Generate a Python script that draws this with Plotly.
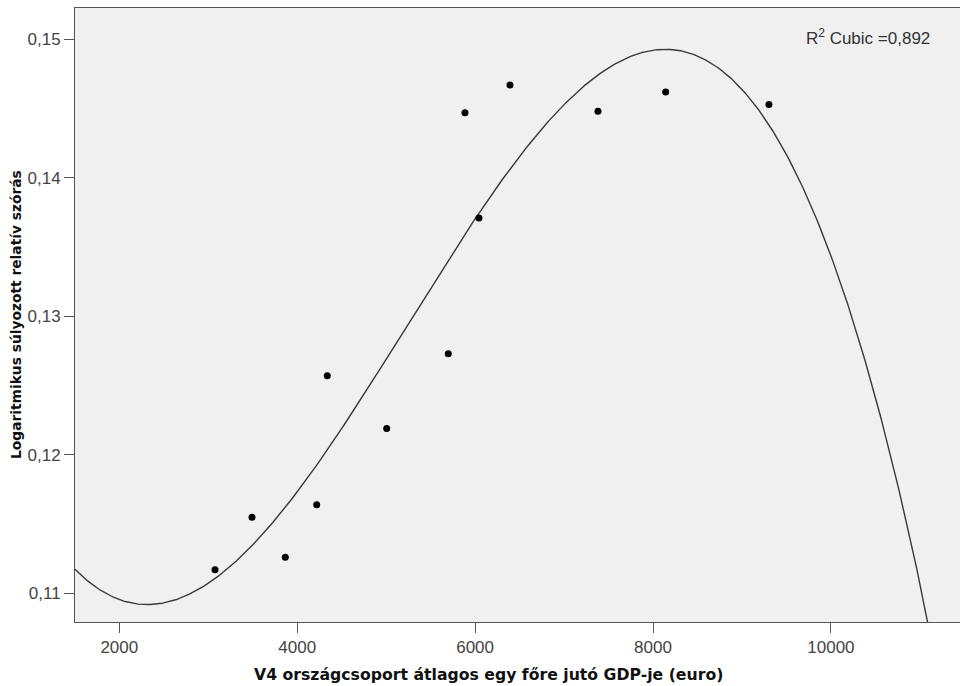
import numpy as np
import plotly.graph_objects as go

# Average GDP per capita of the V4 country group (euro)
gdp = [3076, 3492, 3866, 4219, 4338, 5006, 5698, 5886, 6043, 6392, 7381, 8142, 9303]
# Log-weighted relative standard deviation
log_sd = [0.1117, 0.1155, 0.1126, 0.1164, 0.1257, 0.1219, 0.1273, 0.1447, 0.1371,
          0.1467, 0.1448, 0.1462, 0.1453]

x_ticks = [2000, 4000, 6000, 8000, 10000]
y_ticks = [0.11, 0.12, 0.13, 0.14, 0.15]
y_tick_text = ["0,11", "0,12", "0,13", "0,14", "0,15"]

x_range = [1502, 11451]
y_range = [0.10793, 0.15226]

# Cubic least-squares fit
coef = np.polyfit(gdp, log_sd, 3)
xs = np.linspace(x_range[0], x_range[1], 600)
ys = np.polyval(coef, xs)

FONT = "Liberation Sans, Arial, sans-serif"
TITLE_FONT = "DejaVu Sans, sans-serif"

fig = go.Figure()
fig.add_trace(go.Scatter(
    x=xs, y=ys, mode="lines",
    line=dict(color="#3a3a3a", width=1.4),
    hoverinfo="skip", showlegend=False,
))
fig.add_trace(go.Scatter(
    x=gdp, y=log_sd, mode="markers",
    marker=dict(color="#000000", size=7),
    showlegend=False,
))

fig.update_layout(
    width=960, height=686,
    margin=dict(l=75, r=0, t=8, b=64),
    paper_bgcolor="#ffffff",
    plot_bgcolor="#f0f0f0",
    font=dict(family=FONT, color="#444444", size=17),
    xaxis=dict(
        range=x_range, tickvals=x_ticks, ticktext=[str(v) for v in x_ticks],
        showgrid=False, zeroline=False,
        showline=True, linecolor="#555555", linewidth=1, mirror=True,
        ticks="outside", ticklen=10, tickcolor="#555555", tickwidth=1,
        tickfont=dict(family=FONT, size=17, color="#444444"),
    ),
    yaxis=dict(
        range=y_range, tickvals=y_ticks, ticktext=y_tick_text,
        showgrid=False, zeroline=False,
        showline=True, linecolor="#555555", linewidth=1,
        ticks="outside", ticklen=10, tickcolor="#555555", tickwidth=1,
        tickfont=dict(family=FONT, size=17, color="#444444"),
    ),
    annotations=[
        dict(text="V4 országcsoport átlagos egy főre jutó GDP-je (euro)",
             xref="paper", yref="paper", x=(488 - 75) / 885, y=-52 / 614,
             xanchor="center", yanchor="middle", showarrow=False,
             font=dict(family=TITLE_FONT, size=15.7, color="#111111", weight="bold")),
        dict(text="Logaritmikus súlyozott relatív szórás",
             xref="paper", yref="paper", x=-59 / 885, y=(622 - 315) / 614,
             xanchor="center", yanchor="middle", showarrow=False, textangle=-90,
             font=dict(family=TITLE_FONT, size=13.8, color="#111111", weight="bold")),
        dict(text="R<sup>2</sup> Cubic =0,892",
             xref="paper", yref="paper", x=(932 - 75) / 885, y=(622 - 37) / 614,
             xanchor="right", yanchor="middle", showarrow=False,
             font=dict(family=FONT, size=17, color="#333333")),
    ],
)

fig.write_html("out.html")
